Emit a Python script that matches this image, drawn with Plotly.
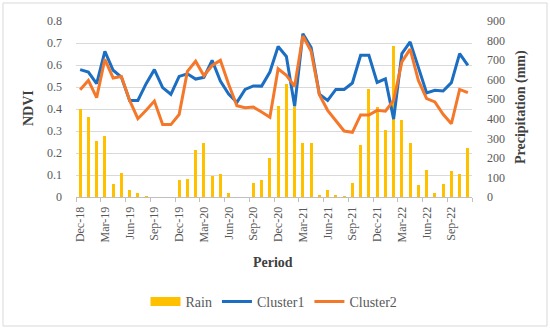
import plotly.graph_objects as go

months = ["Dec-18", "Jan-19", "Feb-19", "Mar-19", "Apr-19", "May-19", "Jun-19", "Jul-19", "Aug-19", "Sep-19", "Oct-19", "Nov-19",
          "Dec-19", "Jan-20", "Feb-20", "Mar-20", "Apr-20", "May-20", "Jun-20", "Jul-20", "Aug-20", "Sep-20", "Oct-20", "Nov-20",
          "Dec-20", "Jan-21", "Feb-21", "Mar-21", "Apr-21", "May-21", "Jun-21", "Jul-21", "Aug-21", "Sep-21", "Oct-21", "Nov-21",
          "Dec-21", "Jan-22", "Feb-22", "Mar-22", "Apr-22", "May-22", "Jun-22", "Jul-22", "Aug-22", "Sep-22", "Oct-22", "Nov-22"]

rain = [448, 409, 285, 314, 65, 125, 35, 19, 5, 0, 0, 0,
        86, 91, 240, 278, 108, 117, 19, 0, 0, 73, 86, 200,
        464, 577, 460, 274, 277, 8, 37, 12, 2, 72, 264, 550,
        460, 342, 772, 392, 277, 61, 136, 22, 66, 134, 117, 252]

cluster1 = [0.579, 0.568, 0.515, 0.662, 0.576, 0.545, 0.439, 0.439, 0.515, 0.579, 0.497, 0.467,
            0.548, 0.560, 0.536, 0.544, 0.621, 0.527, 0.468, 0.430, 0.489, 0.505, 0.504, 0.568,
            0.684, 0.639, 0.412, 0.742, 0.679, 0.467, 0.439, 0.489, 0.489, 0.518, 0.644, 0.644,
            0.521, 0.537, 0.354, 0.652, 0.705, 0.591, 0.473, 0.485, 0.482, 0.520, 0.652, 0.598]

cluster2 = [0.488, 0.530, 0.452, 0.626, 0.541, 0.548, 0.439, 0.356, 0.394, 0.436, 0.329, 0.329,
            0.375, 0.571, 0.617, 0.551, 0.598, 0.621, 0.512, 0.415, 0.406, 0.409, 0.386, 0.362,
            0.583, 0.553, 0.503, 0.732, 0.662, 0.465, 0.394, 0.347, 0.300, 0.294, 0.373, 0.373,
            0.394, 0.390, 0.439, 0.614, 0.672, 0.530, 0.447, 0.432, 0.376, 0.333, 0.489, 0.474]

tick_step = 3
idx = list(range(len(months)))
tickvals = idx[::tick_step]
ticktext = months[::tick_step]

FONT = "Liberation Serif"
GRAY = "#595959"
TITLE = "#404040"
GOLD = "#FFC000"
BLUE = "#1B6EC2"
ORANGE = "#F5782A"

fig = go.Figure()

# legend-only proxy for Rain (wide rectangle symbol)
fig.add_trace(go.Scatter(x=[None], y=[None], mode="lines", name="Rain",
                         line=dict(color=GOLD, width=9), yaxis="y2"))
fig.add_trace(go.Bar(x=idx, y=rain, name="Rain", marker=dict(color=GOLD, line=dict(width=0)),
                     width=0.36, showlegend=False, yaxis="y"))
fig.add_trace(go.Scatter(x=idx, y=cluster1, mode="lines", name="Cluster1",
                         line=dict(color=BLUE, width=3), yaxis="y2"))
fig.add_trace(go.Scatter(x=idx, y=cluster2, mode="lines", name="Cluster2",
                         line=dict(color=ORANGE, width=3), yaxis="y2"))

L, R, T, B = 76, 78, 21, 133
W, H = 550, 330
pw, ph = W - L - R, H - T - B

def px_x(x):
    return (x - L) / pw

def px_y(y):
    return (H - B - y) / ph

fig.update_layout(
    width=W, height=H,
    margin=dict(l=L, r=R, t=T, b=B),
    paper_bgcolor="white", plot_bgcolor="white",
    font=dict(family=FONT, color=GRAY, size=12),
    showlegend=True,
    legend=dict(orientation="h", x=px_x(274), xanchor="center", y=px_y(302), yanchor="middle",
                font=dict(family=FONT, size=14, color=GRAY), bgcolor="rgba(0,0,0,0)"),
    xaxis=dict(range=[-0.5, len(months) - 0.5], tickmode="array", tickvals=tickvals, ticktext=ticktext,
               tickangle=-90, ticks="", ticklabelstandoff=4,
               showline=True, linecolor="#BFBFBF", linewidth=1, showgrid=False, zeroline=False,
               tickfont=dict(family=FONT, size=12, color=GRAY),
               minor=dict(ticks="outside", tick0=-0.5, dtick=tick_step, ticklen=4, tickcolor="#BFBFBF",
                          showgrid=False)),
    yaxis=dict(side="right", range=[0, 900], dtick=100, showgrid=False, zeroline=False,
               ticks="", ticklabelstandoff=14,
               tickfont=dict(family=FONT, size=12, color=GRAY)),
    yaxis2=dict(side="left", overlaying="y", range=[0, 0.8], dtick=0.1, showgrid=True,
                gridcolor="#D9D9D9", gridwidth=1, zeroline=False,
                ticks="", ticklabelstandoff=13,
                tickfont=dict(family=FONT, size=12, color=GRAY)),
    bargap=0,
    annotations=[
        dict(text="<b>NDVI</b>", x=px_x(29), y=px_y(108), xref="paper", yref="paper",
             xanchor="center", yanchor="middle",
             textangle=-90, showarrow=False, font=dict(family=FONT, size=14, color=TITLE)),
        dict(text="<b>Precipitation (mm)</b>", x=px_x(521), y=px_y(107), xref="paper", yref="paper",
             xanchor="center", yanchor="middle",
             textangle=-90, showarrow=False, font=dict(family=FONT, size=14, color=TITLE)),
        dict(text="<b>Period</b>", x=px_x(273), y=px_y(262), xref="paper", yref="paper",
             xanchor="center", yanchor="middle",
             showarrow=False, font=dict(family=FONT, size=14, color=TITLE)),
    ],
    shapes=[dict(type="rect", xref="paper", yref="paper",
                 x0=px_x(3), x1=px_x(547), y0=px_y(326), y1=px_y(3),
                 line=dict(color="#D9D9D9", width=1), fillcolor="rgba(0,0,0,0)", layer="below")],
)

fig.write_html("out.html", config={"displayModeBar": False},
               post_script="document.body.style.margin='0';document.body.style.padding='0';")
